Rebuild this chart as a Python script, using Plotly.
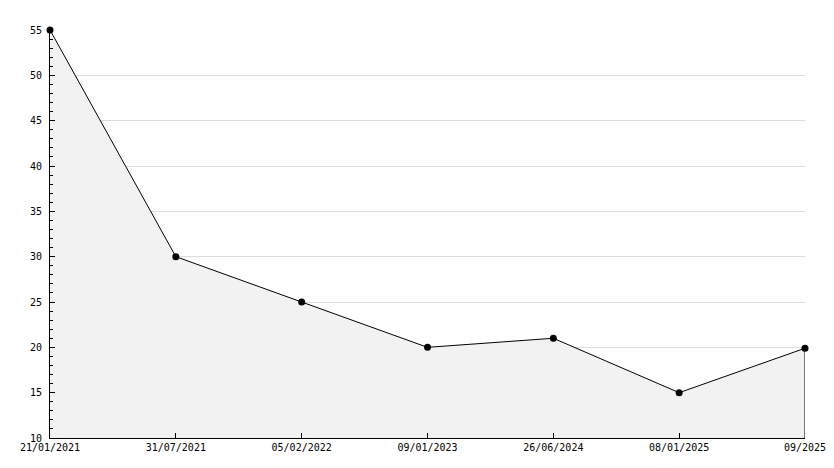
import plotly.graph_objects as go

dates = ["21/01/2021", "31/07/2021", "05/02/2022", "09/01/2023", "26/06/2024", "08/01/2025", "09/2025"]
values = [55, 30, 25, 20, 21, 15, 19.9]
y_ticks = [10, 15, 20, 25, 30, 35, 40, 45, 50, 55]

idx = list(range(len(dates)))
font = dict(family="DejaVu Sans Mono", size=10, color="black")

fig = go.Figure()
fig.add_trace(go.Scatter(
    x=idx, y=values, mode="lines+markers", fill="tozeroy",
    fillcolor="#f2f2f2", line=dict(color="black", width=1),
    marker=dict(color="black", size=7, symbol="circle"),
    hoverinfo="skip", showlegend=False, cliponaxis=False,
))
# closing edge of the filled area at the last point
fig.add_trace(go.Scatter(
    x=[idx[-1], idx[-1]], y=[y_ticks[0], values[-1]], mode="lines",
    line=dict(color="black", width=1), hoverinfo="skip", showlegend=False,
    cliponaxis=False,
))

# the page body adds an 8px margin, so the figure is sized to fit the window
fig.update_layout(
    width=826, height=460,
    margin=dict(l=42, r=29, t=22, b=30, autoexpand=False),
    paper_bgcolor="white", plot_bgcolor="white",
    font=font,
    xaxis=dict(
        range=[0, len(dates) - 1], tickvals=idx, ticktext=dates,
        showgrid=False, zeroline=False, showline=True, linecolor="black", linewidth=1,
        ticks="inside", ticklen=5, tickcolor="black", tickfont=font,
    ),
    yaxis=dict(
        range=[y_ticks[0], y_ticks[-1]], tickvals=y_ticks,
        showgrid=True, gridcolor="#dddddd", gridwidth=1,
        zeroline=False, showline=True, linecolor="black", linewidth=1,
        ticks="inside", ticklen=5, tickcolor="black", tickfont=font,
        ticklabelstandoff=5,
        minor=dict(dtick=1, ticks="inside", ticklen=3, tickcolor="black", showgrid=False),
    ),
)

fig.write_html("out.html")
